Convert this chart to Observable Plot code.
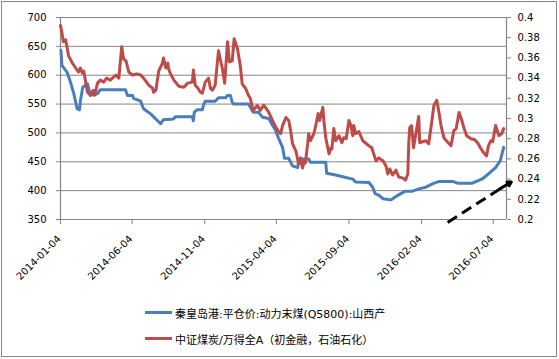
<!DOCTYPE html>
<html>
<head>
<meta charset="utf-8">
<script src="https://cdn.jsdelivr.net/npm/d3@7"></script>
<script src="https://cdn.jsdelivr.net/npm/@observablehq/plot@0.6"></script>
<style>
  body { margin: 0; background: #fff; }
  #wrap { position: relative; width: 559px; height: 359px; background: #fff; }
  #border { position: absolute; left: 1px; top: 1px; width: 556px; height: 356px; border: 1px solid #878787; box-sizing: border-box; }
  #chart { position: absolute; left: 0; top: 0; }
  #legend { position: absolute; left: 145px; top: 303px; font-family: "DejaVu Sans", "Noto Sans CJK SC", sans-serif; font-size: 11px; color: #000; }
  .row { display: flex; align-items: center; height: 19px; margin-bottom: 7px; white-space: nowrap; }
  .sw { width: 27px; height: 3px; margin-right: 3px; }
</style>
</head>
<body>
<div id="wrap">
  <div id="chart"></div>
  <div id="border"></div>
  <div id="legend"></div>
</div>
<script>
// ---- data ----
const seriesNames = ["秦皇岛港:平仓价:动力末煤(Q5800):山西产", "中证煤炭/万得全A（初金融，石油石化）"];
const seriesColors = ["#4A7EBB", "#BE4B48"];

const blueDates = ["2014-01-05","2014-01-07","2014-01-18","2014-01-25","2014-02-01","2014-02-08","2014-02-13","2014-02-15","2014-02-20","2014-03-02","2014-03-08","2014-03-23","2014-03-29","2014-05-21","2014-05-25","2014-06-05","2014-06-07","2014-06-22","2014-06-28","2014-07-13","2014-08-03","2014-08-09","2014-08-30","2014-09-03","2014-10-09","2014-10-11","2014-10-13","2014-10-19","2014-10-30","2014-11-01","2014-11-05","2014-11-26","2014-12-03","2014-12-18","2014-12-22","2014-12-28","2015-01-01","2015-01-04","2015-02-04","2015-02-08","2015-02-14","2015-02-25","2015-03-06","2015-03-19","2015-03-27","2015-04-02","2015-04-08","2015-04-17","2015-04-21","2015-04-30","2015-05-08","2015-05-19","2015-05-21","2015-06-11","2015-06-15","2015-07-17","2015-07-19","2015-08-07","2015-08-22","2015-09-12","2015-09-18","2015-10-16","2015-10-24","2015-10-29","2015-11-06","2015-11-15","2015-12-01","2015-12-12","2015-12-27","2016-01-01","2016-01-16","2016-01-29","2016-02-13","2016-02-28","2016-03-12","2016-04-09","2016-04-20","2016-05-21","2016-06-12","2016-06-24","2016-07-09","2016-07-19","2016-07-26"];
const blueValues = [643,617,605,588,568,542,540,556,579,585,565,568,575,575,565,565,560,555,542,533,516,523,524,528,528,521,536,540,540,547,555,555,561,561,565,565,553,550,550,545,536,536,527,525,513,505,492,475,456,456,443,440,455,455,449,449,430,427,424,420,415,414,406,395,392,386,384,390,397,399,399,403,406,412,416,416,413,413,421,429,440,452,475];

const redDates = ["2014-01-04","2014-01-07","2014-01-10","2014-01-15","2014-01-21","2014-01-29","2014-02-05","2014-02-11","2014-02-15","2014-02-19","2014-02-22","2014-02-26","2014-03-02","2014-03-08","2014-03-14","2014-03-17","2014-03-23","2014-03-29","2014-04-05","2014-04-11","2014-04-19","2014-04-26","2014-05-01","2014-05-07","2014-05-13","2014-05-17","2014-05-22","2014-05-28","2014-06-05","2014-06-14","2014-06-22","2014-06-28","2014-07-09","2014-07-17","2014-07-19","2014-07-24","2014-07-30","2014-08-07","2014-08-09","2014-08-14","2014-08-18","2014-08-20","2014-08-24","2014-08-31","2014-09-10","2014-09-21","2014-09-29","2014-10-09","2014-10-11","2014-10-15","2014-10-19","2014-10-26","2014-10-30","2014-11-05","2014-11-12","2014-11-16","2014-11-20","2014-11-26","2014-12-03","2014-12-07","2014-12-11","2014-12-16","2014-12-22","2014-12-26","2015-01-01","2015-01-05","2015-01-12","2015-01-18","2015-01-22","2015-01-29","2015-02-04","2015-02-08","2015-02-14","2015-02-23","2015-03-01","2015-03-08","2015-03-12","2015-03-19","2015-03-27","2015-04-02","2015-04-07","2015-04-13","2015-04-17","2015-04-24","2015-04-30","2015-05-04","2015-05-08","2015-05-15","2015-05-21","2015-05-25","2015-05-29","2015-06-02","2015-06-04","2015-06-09","2015-06-11","2015-06-15","2015-06-22","2015-06-26","2015-07-01","2015-07-04","2015-07-11","2015-07-13","2015-07-17","2015-07-24","2015-07-28","2015-07-30","2015-08-03","2015-08-07","2015-08-14","2015-08-20","2015-08-24","2015-08-29","2015-09-04","2015-09-08","2015-09-12","2015-09-14","2015-09-18","2015-09-25","2015-10-03","2015-10-16","2015-10-22","2015-10-31","2015-11-06","2015-11-15","2015-11-21","2015-11-25","2015-11-29","2015-12-05","2015-12-12","2015-12-18","2015-12-27","2016-01-01","2016-01-06","2016-01-08","2016-01-10","2016-01-14","2016-01-18","2016-01-23","2016-01-29","2016-01-31","2016-02-06","2016-02-13","2016-02-19","2016-02-25","2016-03-01","2016-03-07","2016-03-12","2016-03-16","2016-03-22","2016-03-31","2016-04-06","2016-04-12","2016-04-17","2016-04-23","2016-04-29","2016-05-03","2016-05-09","2016-05-18","2016-05-26","2016-06-01","2016-06-07","2016-06-14","2016-06-20","2016-06-24","2016-06-29","2016-07-03","2016-07-09","2016-07-16","2016-07-22","2016-07-26"];
const redValues = [0.392,0.385,0.376,0.378,0.362,0.355,0.350,0.346,0.350,0.345,0.347,0.336,0.326,0.323,0.328,0.323,0.335,0.338,0.336,0.340,0.338,0.341,0.343,0.340,0.371,0.359,0.357,0.346,0.343,0.344,0.343,0.340,0.333,0.330,0.326,0.328,0.347,0.355,0.360,0.350,0.355,0.349,0.344,0.338,0.332,0.331,0.335,0.336,0.348,0.333,0.331,0.326,0.325,0.336,0.340,0.330,0.328,0.333,0.367,0.358,0.350,0.335,0.376,0.356,0.357,0.379,0.369,0.352,0.334,0.330,0.323,0.320,0.308,0.313,0.308,0.313,0.311,0.306,0.298,0.292,0.288,0.285,0.293,0.301,0.298,0.288,0.275,0.268,0.255,0.261,0.251,0.258,0.256,0.275,0.285,0.278,0.285,0.293,0.305,0.298,0.311,0.298,0.281,0.265,0.271,0.270,0.290,0.278,0.283,0.276,0.281,0.280,0.298,0.293,0.283,0.293,0.285,0.287,0.278,0.273,0.271,0.258,0.261,0.258,0.253,0.245,0.250,0.244,0.249,0.242,0.241,0.239,0.245,0.275,0.291,0.293,0.271,0.285,0.302,0.276,0.277,0.278,0.275,0.295,0.313,0.318,0.305,0.293,0.281,0.276,0.273,0.288,0.290,0.306,0.298,0.291,0.283,0.280,0.279,0.276,0.271,0.266,0.263,0.273,0.278,0.277,0.293,0.283,0.285,0.290];

const xStart = "2014-01-04", xEnd = "2016-08-01";
const xTickLabels = ["2014-01-04","2014-06-04","2014-11-04","2015-04-04","2015-09-04","2016-02-04","2016-07-04"];
const leftTicks = [350,400,450,500,550,600,650,700];
const rightTicks = [0.2,0.22,0.24,0.26,0.28,0.3,0.32,0.34,0.36,0.38,0.4];
const leftDomain = [350, 700], rightDomain = [0.2, 0.4];

// dashed annotation arrow, in (date, right-axis value)
const arrowDates = ["2016-03-30", "2016-07-19", "2016-08-11"]; // tail, head start, tip
const arrowValues = [0.197, 0.2306, 0.2371];

// ---- build ----
const D = s => new Date(s + "T00:00:00Z");
const toLeft = v => leftDomain[0] + (v - rightDomain[0]) / (rightDomain[1] - rightDomain[0]) * (leftDomain[1] - leftDomain[0]);
const fromLeft = d => rightDomain[0] + (d - leftDomain[0]) / (leftDomain[1] - leftDomain[0]) * (rightDomain[1] - rightDomain[0]);

const blue = blueDates.map((d, i) => ({date: D(d), value: blueValues[i]}));
const red = redDates.map((d, i) => ({date: D(d), value: toLeft(redValues[i])}));
const xTicks = xTickLabels.map(D);
const arrowLink = [{x1: D(arrowDates[0]), y1: toLeft(arrowValues[0]), x2: D(arrowDates[1]), y2: toLeft(arrowValues[1])}];
const arrowHead = [{x1: D(arrowDates[1]), y1: toLeft(arrowValues[1]), x2: D(arrowDates[2]), y2: toLeft(arrowValues[2])}];

const grid = "#868686";

const chart = Plot.plot({
  width: 559,
  height: 295,
  marginLeft: 60,
  marginRight: 53,
  marginTop: 17,
  marginBottom: 76,
  style: {fontFamily: "'DejaVu Sans', sans-serif", fontSize: "10px", color: "#000", background: "transparent", overflow: "visible"},
  x: {type: "utc", domain: [D(xStart), D(xEnd)], axis: null},
  y: {domain: leftDomain, axis: null},
  marks: [
    Plot.gridY(leftTicks, {stroke: grid, strokeOpacity: 1}),
    Plot.ruleX([D(xStart), D(xEnd)], {stroke: grid, strokeWidth: 1.2}),
    Plot.axisY(leftTicks, {anchor: "left", tickSize: 4, tickPadding: 10, stroke: grid, fill: "#000", fontSize: 10}),
    Plot.axisY(rightTicks.map(toLeft), {anchor: "right", tickSize: 4, tickPadding: 7, stroke: grid, fill: "#000", fontSize: 10,
      tickFormat: d => String(+fromLeft(d).toFixed(2))}),
    Plot.axisX(xTicks, {anchor: "bottom", tickSize: 5, tickFormat: () => "", stroke: grid}),
    Plot.text(xTicks, {x: d => d, text: (d, i) => xTickLabels[i], frameAnchor: "bottom", dy: 20, dx: 1,
      rotate: -45, textAnchor: "end", lineAnchor: "bottom", fill: "#000", fontSize: 10}),
    Plot.line(blue, {x: "date", y: "value", stroke: seriesColors[0], strokeWidth: 3, strokeLinejoin: "round"}),
    Plot.line(red, {x: "date", y: "value", stroke: seriesColors[1], strokeWidth: 3, strokeLinejoin: "round"}),
    Plot.link(arrowLink, {x1: "x1", y1: "y1", x2: "x2", y2: "y2", stroke: "#000", strokeWidth: 3, strokeDasharray: "11,6"}),
    Plot.arrow(arrowHead, {x1: "x1", y1: "y1", x2: "x2", y2: "y2", stroke: "#000", strokeWidth: 3, headLength: 9, bend: 0})
  ]
});
document.getElementById("chart").appendChild(chart);

const legend = document.getElementById("legend");
seriesNames.forEach((name, i) => {
  const row = document.createElement("div");
  row.className = "row";
  const sw = document.createElement("span");
  sw.className = "sw";
  sw.style.background = seriesColors[i];
  const t = document.createElement("span");
  t.textContent = name;
  row.appendChild(sw);
  row.appendChild(t);
  legend.appendChild(row);
});
</script>
</body>
</html>
